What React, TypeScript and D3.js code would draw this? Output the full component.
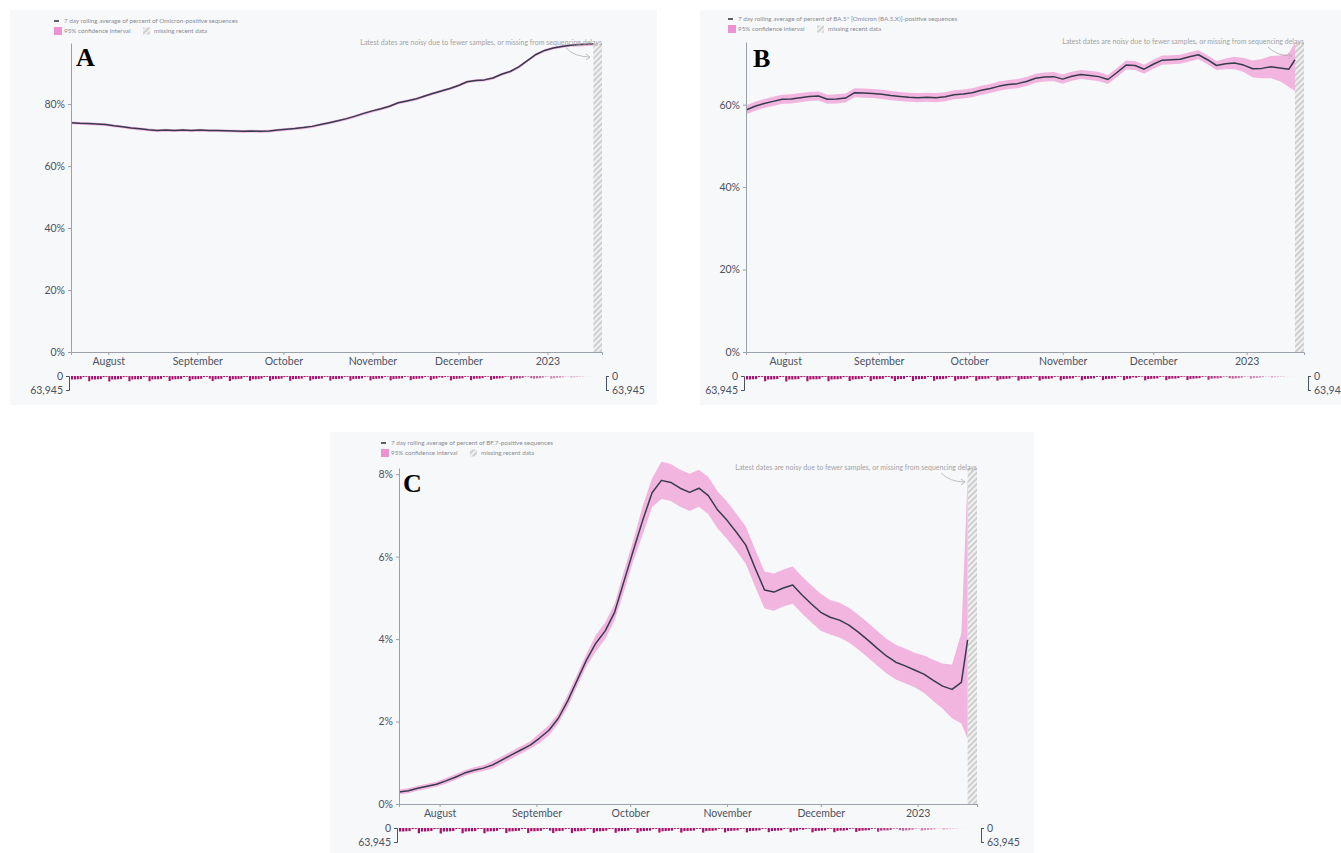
import React, { useEffect, useRef } from 'react';
import * as d3 from 'd3';

const dates = [
  '2022-07-19', '2022-07-22', '2022-07-25', '2022-07-28', '2022-07-31',
  '2022-08-03', '2022-08-06', '2022-08-09', '2022-08-12', '2022-08-15', '2022-08-18', '2022-08-21', '2022-08-24', '2022-08-27', '2022-08-30',
  '2022-09-02', '2022-09-05', '2022-09-08', '2022-09-11', '2022-09-14', '2022-09-17', '2022-09-20', '2022-09-23', '2022-09-26', '2022-09-29',
  '2022-10-02', '2022-10-05', '2022-10-08', '2022-10-11', '2022-10-14', '2022-10-17', '2022-10-20', '2022-10-23', '2022-10-26', '2022-10-29',
  '2022-11-01', '2022-11-04', '2022-11-07', '2022-11-10', '2022-11-13', '2022-11-16', '2022-11-19', '2022-11-22', '2022-11-25', '2022-11-28',
  '2022-12-01', '2022-12-04', '2022-12-07', '2022-12-10', '2022-12-13', '2022-12-16', '2022-12-19', '2022-12-22', '2022-12-25', '2022-12-28', '2022-12-31',
  '2023-01-03', '2023-01-06', '2023-01-09', '2023-01-12', '2023-01-15', '2023-01-17',
];

const omicronPct = [
  74.0, 73.8, 73.7, 73.6, 73.4,
  73.0, 72.7, 72.3, 72.0, 71.7, 71.5, 71.6, 71.5, 71.6, 71.5,
  71.6, 71.5, 71.5, 71.4, 71.3, 71.2, 71.3, 71.2, 71.3, 71.6,
  71.9, 72.1, 72.4, 72.8, 73.4, 74.0, 74.6, 75.3, 76.1, 77.0,
  77.8, 78.5, 79.3, 80.4, 81.0, 81.6, 82.5, 83.4, 84.2, 85.0,
  86.0, 87.2, 87.6, 87.8, 88.4, 89.6, 90.5, 92.0, 94.0, 96.0, 97.3,
  98.1, 98.6, 99.0, 99.2, 99.3, 99.4,
];
const omicronCiDown = [
  0.5, 0.5, 0.5, 0.5, 0.5,
  0.5, 0.5, 0.5, 0.5, 0.5, 0.5, 0.5, 0.5, 0.5, 0.5,
  0.5, 0.5, 0.5, 0.5, 0.5, 0.5, 0.5, 0.5, 0.5, 0.5,
  0.5, 0.5, 0.5, 0.5, 0.5, 0.5, 0.5, 0.5, 0.5, 0.5,
  0.5, 0.5, 0.5, 0.5, 0.5, 0.5, 0.5, 0.5, 0.5, 0.5,
  0.5, 0.5, 0.5, 0.5, 0.5, 0.5, 0.5, 0.5, 0.5, 0.5, 0.5,
  0.5, 0.5, 0.5, 0.6, 0.6, 0.6,
];
const omicronCiUp = [
  0.4, 0.4, 0.4, 0.4, 0.4,
  0.4, 0.4, 0.4, 0.4, 0.4, 0.4, 0.4, 0.4, 0.4, 0.4,
  0.4, 0.4, 0.4, 0.4, 0.4, 0.4, 0.4, 0.4, 0.4, 0.4,
  0.4, 0.4, 0.4, 0.4, 0.4, 0.4, 0.4, 0.4, 0.4, 0.4,
  0.4, 0.4, 0.4, 0.4, 0.4, 0.4, 0.4, 0.4, 0.4, 0.4,
  0.4, 0.4, 0.4, 0.4, 0.4, 0.4, 0.4, 0.4, 0.4, 0.4, 0.4,
  0.4, 0.4, 0.4, 0.3, 0.3, 0.3,
];

const ba5Pct = [
  58.7, 59.6, 60.3, 60.8, 61.3,
  61.4, 61.7, 62.0, 62.1, 61.3, 61.4, 61.6, 62.9, 62.8, 62.7,
  62.5, 62.2, 62.0, 61.8, 61.7, 61.8, 61.7, 61.9, 62.4, 62.6,
  62.9, 63.5, 63.9, 64.5, 64.9, 65.1, 65.6, 66.4, 66.7, 66.8,
  66.2, 66.9, 67.3, 67.1, 66.8, 66.1, 67.8, 69.6, 69.5, 68.6,
  69.8, 70.8, 70.9, 71.0, 71.6, 72.1, 70.9, 69.5, 69.9, 70.1, 69.6,
  68.7, 68.8, 69.2, 68.9, 68.6, 70.9,
];
const ba5CiDown = [
  1.1, 1.1, 1.1, 1.1, 1.1,
  1.1, 1.1, 1.1, 1.1, 1.1, 1.1, 1.1, 1.1, 1.1, 1.1,
  1.1, 1.1, 1.1, 1.1, 1.1, 1.1, 1.1, 1.1, 1.1, 1.1,
  1.1, 1.1, 1.1, 1.1, 1.1, 1.1, 1.1, 1.1, 1.1, 1.1,
  1.1, 1.1, 1.1, 1.1, 1.1, 1.1, 1.1, 1.1, 1.1, 1.1,
  1.1, 1.1, 1.1, 1.1, 1.1, 1.1, 1.1, 1.1, 1.3, 1.5, 1.7,
  2.1, 2.4, 2.8, 3.2, 4.3, 7.6,
];
const ba5CiUp = [
  1.1, 1.1, 1.1, 1.1, 1.1,
  1.1, 1.1, 1.1, 1.1, 1.1, 1.1, 1.1, 1.1, 1.1, 1.1,
  1.1, 1.1, 1.1, 1.1, 1.1, 1.1, 1.1, 1.1, 1.1, 1.1,
  1.1, 1.1, 1.1, 1.1, 1.1, 1.1, 1.1, 1.1, 1.1, 1.1,
  1.1, 1.1, 1.1, 1.1, 1.1, 1.1, 1.1, 1.1, 1.1, 1.1,
  1.1, 1.1, 1.1, 1.1, 1.1, 1.1, 1.1, 1.1, 1.3, 1.5, 1.7,
  2.0, 2.3, 2.6, 3.0, 3.8, 4.3,
];

const bf7Pct = [
  0.29, 0.32, 0.38, 0.43, 0.48,
  0.56, 0.65, 0.75, 0.82, 0.87, 0.95, 1.07, 1.19, 1.31, 1.43,
  1.60, 1.79, 2.08, 2.50, 3.00, 3.49, 3.90, 4.20, 4.65, 5.40,
  6.15, 6.88, 7.55, 7.85, 7.80, 7.66, 7.56, 7.66, 7.48, 7.13,
  6.88, 6.59, 6.28, 5.72, 5.19, 5.14, 5.24, 5.31, 5.07, 4.85,
  4.65, 4.53, 4.46, 4.34, 4.17, 3.98, 3.78, 3.59, 3.44, 3.35, 3.25,
  3.15, 3.00, 2.86, 2.78, 2.95, 3.98,
];
const bf7CiDown = [
  0.06, 0.06, 0.06, 0.06, 0.06,
  0.07, 0.07, 0.07, 0.07, 0.07, 0.09, 0.09, 0.09, 0.09, 0.09,
  0.12, 0.12, 0.12, 0.15, 0.15, 0.15, 0.2, 0.2, 0.2, 0.25,
  0.25, 0.35, 0.35, 0.45, 0.45, 0.45, 0.45, 0.45, 0.45, 0.45,
  0.45, 0.45, 0.45, 0.45, 0.45, 0.45, 0.45, 0.45, 0.45, 0.45,
  0.45, 0.42, 0.42, 0.42, 0.42, 0.42, 0.42, 0.42, 0.42, 0.42, 0.42,
  0.45, 0.5, 0.55, 0.7, 1.0, 2.4,
];
const bf7CiUp = [
  0.06, 0.06, 0.06, 0.06, 0.06,
  0.07, 0.07, 0.07, 0.07, 0.07, 0.09, 0.09, 0.09, 0.09, 0.09,
  0.12, 0.12, 0.12, 0.15, 0.15, 0.15, 0.2, 0.2, 0.2, 0.25,
  0.25, 0.35, 0.35, 0.45, 0.45, 0.45, 0.45, 0.45, 0.45, 0.45,
  0.45, 0.45, 0.45, 0.45, 0.45, 0.45, 0.45, 0.45, 0.45, 0.45,
  0.45, 0.42, 0.42, 0.42, 0.42, 0.42, 0.42, 0.42, 0.42, 0.42, 0.42,
  0.45, 0.5, 0.55, 0.6, 1.2, 3.95,
];

// daily sequence counts (thousands), Jul 19 2022 .. Jan 17 2023
const samplesK = [
  16, 16, 15, 14, 5, 4,
  24, 16, 16, 15, 14, 5, 4,
  25, 16, 16, 15, 14, 5, 4,
  24, 16, 15, 15, 14, 5, 4,
  24, 16, 15, 15, 13, 5, 4,
  23, 16, 15, 14, 13, 5, 4,
  23, 15, 15, 14, 13, 5, 4,
  12, 23, 15, 14, 13, 5, 4,
  23, 15, 15, 14, 13, 5, 4,
  22, 15, 15, 14, 12, 5, 4,
  22, 15, 14, 14, 12, 5, 4,
  22, 15, 14, 13, 12, 5, 4,
  21, 15, 14, 13, 12, 4, 4,
  21, 14, 14, 13, 12, 4, 4,
  21, 14, 13, 13, 11, 4, 3,
  20, 14, 13, 12, 11, 4, 3,
  20, 14, 13, 12, 11, 4, 3,
  19, 14, 13, 12, 11, 4, 3,
  19, 13, 12, 6, 8, 4, 3,
  20, 14, 13, 12, 11, 4, 3,
  19, 13, 12, 12, 10, 4, 3,
  18, 13, 12, 11, 10, 4, 3,
  17, 12, 11, 11, 9, 3, 3,
  10, 12, 11, 10, 8, 3, 2,
  12, 10, 9, 8, 6, 2, 2,
  8, 6, 5, 4, 3, 1, 1,
  1, 0.5,
];
const maxSamples = 63945;

const monthTicks = ['2022-08-01', '2022-09-01', '2022-10-01', '2022-11-01', '2022-12-01', '2023-01-01'];
const monthLabels = ['August', 'September', 'October', 'November', 'December', '2023'];

const xStart = '2022-07-19';
const xEnd = '2023-01-20';
const missingFrom = '2023-01-17';
const fadeFrom = '2022-12-15';

const FONT = 'Lato, "DejaVu Sans", sans-serif';
const INK = '#4b5262';
const AXIS = '#9ba1ab';
const PINK = '#f2b5df';

const panels = [
  {
    letter: 'A', title: '7 day rolling average of percent of Omicron-positive sequences',
    pct: omicronPct, down: omicronCiDown, up: omicronCiUp, yMax: 99.7,
    bg: [10, 10, 647, 395], plot: [71, 602, 43, 352], legend: [54, 21], mark: [76, 66],
  },
  {
    letter: 'B', title: '7 day rolling average of percent of BA.5* [Omicron (BA.5.X)]-positive sequences',
    pct: ba5Pct, down: ba5CiDown, up: ba5CiUp, yMax: 75.2,
    bg: [700, 10, 645, 395], plot: [746, 1304, 42, 352], legend: [728, 19], mark: [753, 67],
  },
  {
    letter: 'C', title: '7 day rolling average of percent of BF.7-positive sequences',
    pct: bf7Pct, down: bf7CiDown, up: bf7CiUp, yMax: 8.15,
    bg: [330, 432, 704, 421], plot: [399, 977, 468, 804], legend: [381, 443], mark: [403, 492],
  },
];

const parse = d3.timeParse('%Y-%m-%d');

function styleAxis(sel: any) {
  sel.attr('font-family', FONT).attr('font-size', 10.5).attr('color', AXIS);
  sel.selectAll('text').attr('fill', INK);
}

function drawPanel(svg: any, p: typeof panels[number]) {
  const g = svg.append('g');
  const [L, R, T, B] = p.plot;

  g.append('rect')
    .attr('x', p.bg[0]).attr('y', p.bg[1]).attr('width', p.bg[2]).attr('height', p.bg[3])
    .attr('fill', '#f7f8fa');

  const x = d3.scaleTime().domain([parse(xStart)!, parse(xEnd)!]).range([L, R]);
  const y = d3.scaleLinear().domain([0, p.yMax]).range([B, T]);

  const rows = dates.map((d, i) => ({
    date: parse(d)!,
    v: p.pct[i],
    lo: p.pct[i] - p.down[i],
    hi: p.pct[i] + p.up[i],
  }));

  // missing recent data
  const mx = x(parse(missingFrom)!);
  g.append('rect')
    .attr('x', mx).attr('y', T).attr('width', R - mx).attr('height', B - T)
    .attr('fill', 'url(#hatch)');

  g.append('path')
    .datum(rows)
    .attr('fill', PINK)
    .attr('d', d3.area<any>().x(d => x(d.date)).y0(d => y(d.lo)).y1(d => y(d.hi)));

  g.append('path')
    .datum(rows)
    .attr('fill', 'none')
    .attr('stroke', '#363b4e')
    .attr('stroke-width', 1.5)
    .attr('stroke-linejoin', 'round')
    .attr('d', d3.line<any>().x(d => x(d.date)).y(d => y(d.v)));

  // axes
  const ya = g.append('g')
    .attr('transform', `translate(${L},0)`)
    .call(d3.axisLeft(y).ticks(5).tickSize(3).tickSizeOuter(0).tickFormat((d: any) => `${d}%`));
  styleAxis(ya);

  const xa = g.append('g')
    .attr('transform', `translate(0,${B})`)
    .call(d3.axisBottom(x)
      .tickValues(monthTicks.map(d => parse(d)!))
      .tickSize(3).tickSizeOuter(3)
      .tickFormat((_d: any, i: number) => monthLabels[i]));
  styleAxis(xa);

  // daily sample counts strip
  const S = B + 24;
  const sy = d3.scaleLinear().domain([0, maxSamples]).range([S, S + 14]);
  const days = d3.timeDay.range(parse(xStart)!, d3.timeDay.offset(parse(missingFrom)!, 1));
  const dayW = x(days[1]) - x(days[0]);
  const fade = d3.scaleTime()
    .domain([parse(fadeFrom)!, parse(missingFrom)!])
    .range([1, 0.08]).clamp(true);

  g.append('g')
    .selectAll('rect')
    .data(days.map((d, i) => ({ date: d, n: samplesK[i] * 1000 })))
    .join('rect')
    .attr('x', (d: any) => x(d.date))
    .attr('y', S)
    .attr('width', dayW * 0.72)
    .attr('height', (d: any) => sy(d.n) - S)
    .attr('fill', '#a8126c')
    .attr('opacity', (d: any) => fade(d.date));

  const fmt = d3.format(',');
  const sl = g.append('g')
    .attr('transform', `translate(${L - 2},0)`)
    .call(d3.axisLeft(sy).tickValues([0, maxSamples]).tickSize(3).tickSizeOuter(3).tickFormat((d: any) => fmt(d)));
  styleAxis(sl);
  sl.attr('color', INK);
  const sr = g.append('g')
    .attr('transform', `translate(${R + 4},0)`)
    .call(d3.axisRight(sy).tickValues([0, maxSamples]).tickSize(3).tickSizeOuter(3).tickFormat((d: any) => fmt(d)));
  styleAxis(sr);
  sr.attr('color', INK);

  // note + arrow
  g.append('text')
    .attr('x', R).attr('y', T + 2)
    .attr('text-anchor', 'end')
    .attr('font-family', FONT).attr('font-size', 7)
    .attr('fill', '#a3a3a3')
    .text('Latest dates are noisy due to fewer samples, or missing from sequencing delays');
  g.append('path')
    .attr('d', `M${R - 36},${T + 5} Q${R - 27},${T + 14} ${R - 12},${T + 14}`)
    .attr('fill', 'none').attr('stroke', '#b0b0b0').attr('stroke-width', 0.8);
  g.append('path')
    .attr('d', `M${R - 16},${T + 11} L${R - 12},${T + 14} L${R - 16},${T + 17}`)
    .attr('fill', 'none').attr('stroke', '#b0b0b0').attr('stroke-width', 0.8);

  // legend
  const [lx, ly] = p.legend;
  const lg = g.append('g').attr('font-family', FONT).attr('font-size', 6.3).attr('fill', '#8a8d94');
  lg.append('rect').attr('x', lx).attr('y', ly - 0.8).attr('width', 5).attr('height', 1.6).attr('fill', '#363b4e');
  lg.append('text').attr('x', lx + 10).attr('y', ly).attr('dy', '0.35em').text(p.title);
  lg.append('rect').attr('x', lx).attr('y', ly + 6).attr('width', 8).attr('height', 8).attr('fill', '#ec92d2');
  lg.append('text').attr('x', lx + 10).attr('y', ly + 10).attr('dy', '0.35em').text('95% confidence interval');
  lg.append('rect').attr('x', lx + 89).attr('y', ly + 6.5).attr('width', 7).attr('height', 7).attr('fill', 'url(#hatch)');
  lg.append('text').attr('x', lx + 100).attr('y', ly + 10).attr('dy', '0.35em').text('missing recent data');

  g.append('text')
    .attr('x', p.mark[0]).attr('y', p.mark[1])
    .attr('font-family', '"Liberation Serif", "Times New Roman", serif')
    .attr('font-weight', 'bold').attr('font-size', 26)
    .attr('fill', '#000')
    .text(p.letter);
}

export default function App() {
  const svgRef = useRef<SVGSVGElement>(null);

  useEffect(() => {
    if (!svgRef.current) return;
    const svg = d3.select(svgRef.current);
    svg.selectAll('*').remove();

    const pat = svg.append('defs').append('pattern')
      .attr('id', 'hatch')
      .attr('patternUnits', 'userSpaceOnUse')
      .attr('width', 4).attr('height', 4)
      .attr('patternTransform', 'rotate(45)');
    pat.append('rect').attr('width', 4).attr('height', 4).attr('fill', '#f1f1f1');
    pat.append('line').attr('x1', 1).attr('y1', 0).attr('x2', 1).attr('y2', 4)
      .attr('stroke', '#c6c6c6').attr('stroke-width', 1.6);

    panels.forEach(p => drawPanel(svg, p));
  }, []);

  return (
    <svg
      ref={svgRef}
      width={1341}
      height={853}
      style={{ position: 'absolute', left: 0, top: 0, background: '#fff' }}
    />
  );
}
